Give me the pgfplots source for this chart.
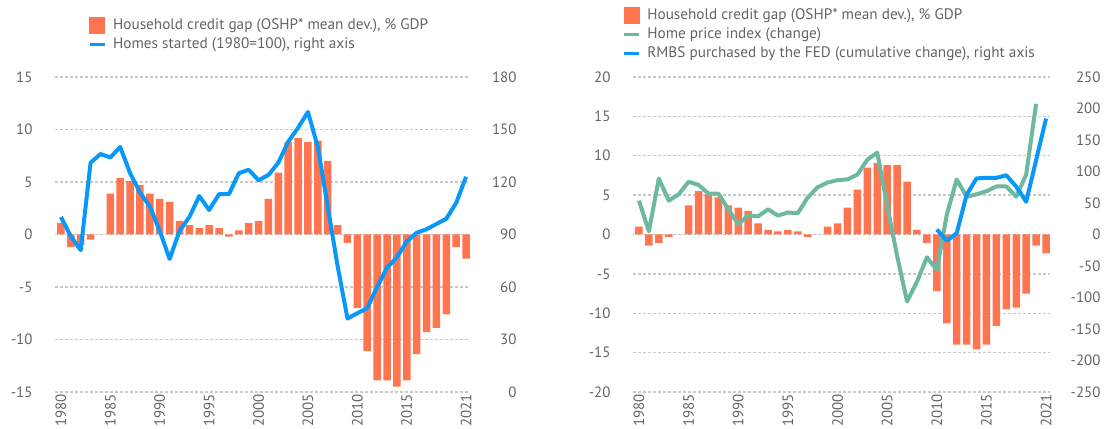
\documentclass[border=0pt]{standalone}
\usepackage{pgfplots}
\usepackage{pgfplotstable}
\pgfplotsset{compat=1.18}
\usepackage{fontspec}
\setmainfont{PT Sans}
\definecolor{barc}{RGB}{255,117,80}
\definecolor{bluec}{RGB}{8,152,250}
\definecolor{greenc}{RGB}{108,184,160}
\definecolor{txt}{RGB}{100,100,100}
\definecolor{gridc}{RGB}{200,200,200}

\pgfplotstableread{
year val
1980 1.1
1981 -1.2
1982 -1.0
1983 -0.5
1984 0
1985 3.9
1986 5.4
1987 5.1
1988 4.7
1989 3.9
1990 3.4
1991 3.1
1992 1.3
1993 0.9
1994 0.6
1995 0.9
1996 0.6
1997 -0.2
1998 0.4
1999 1.1
2000 1.3
2001 3.4
2002 5.9
2003 8.8
2004 9.2
2005 8.8
2006 8.95
2007 7.0
2008 0.9
2009 -0.8
2010 -7.0
2011 -11.1
2012 -13.9
2013 -13.9
2014 -14.5
2015 -13.9
2016 -11.4
2017 -9.3
2018 -8.9
2019 -7.6
2020 -1.2
2021 -2.3
}\gapA

\pgfplotstableread{
year val
1980 100
1981 89
1982 81
1983 131
1984 136
1985 134
1986 140
1987 125
1988 114
1989 106
1990 92
1991 76
1992 92
1993 100
1994 112
1995 104
1996 113
1997 113
1998 125
1999 127
2000 121
2001 124
2002 131
2003 143
2004 151
2005 160
2006 140
2007 106
2008 72
2009 42
2010 45
2011 48
2012 60
2013 71
2014 77
2015 86
2016 91
2017 93
2018 96
2019 99
2020 108
2021 123
}\homes

\pgfplotstableread{
year val
1980 1.0
1981 -1.4
1982 -1.1
1983 -0.3
1984 0
1985 3.7
1986 5.5
1987 5.1
1988 4.7
1989 3.7
1990 3.4
1991 3.0
1992 1.4
1993 0.6
1994 0.4
1995 0.6
1996 0.4
1997 -0.3
1998 0
1999 1.0
2000 1.4
2001 3.4
2002 5.7
2003 8.5
2004 9.1
2005 8.8
2006 8.8
2007 6.7
2008 0.6
2009 -1.1
2010 -7.2
2011 -11.3
2012 -14.0
2013 -14.0
2014 -14.6
2015 -14.0
2016 -11.6
2017 -9.5
2018 -9.3
2019 -7.5
2020 -1.4
2021 -2.4
}\gapB

\pgfplotstableread{
year val
1980 4.3
1981 0.4
1982 7.1
1983 4.3
1984 5.1
1985 6.7
1986 6.3
1987 5.2
1988 5.2
1989 3.2
1990 1.3
1991 2.4
1992 2.3
1993 3.2
1994 2.4
1995 2.8
1996 2.7
1997 4.7
1998 6.0
1999 6.6
2000 6.9
2001 7.0
2002 7.6
2003 9.5
2004 10.4
2005 3.7
2006 -2.7
2007 -8.5
2008 -6.0
2009 -2.9
2010 -4.5
2011 2.5
2012 7.0
2013 4.8
2014 5.1
2015 5.5
2016 6.1
2017 6.1
2018 4.8
2019 7.6
2020 16.6
}\hpi

\pgfplotstableread{
year val
2010 8
2011 -10
2012 2
2013 63
2014 89
2015 90
2016 90
2017 94
2018 76
2019 52
2020 118
2021 184
}\rmbs

\pgfplotsset{
  base/.style={
    scale only axis, height=315bp,
    xmin=1979.4, xmax=2021.4,
    axis line style={draw=none}, tick style={draw=none}, major tick length=0pt,
    ticklabel style={font=\fontsize{15}{17}\selectfont, text=txt},
    /pgf/number format/assume math mode=true,
    /pgf/number format/1000 sep={},
    clip=false,
  },
  leftax/.style={base,
    xtick={1980,1985,1990,1995,2000,2005,2010,2015,2021},
    xticklabel style={rotate=90, anchor=east, inner sep=2bp},
    ymajorgrids, grid style={gridc, line width=1.3bp, dash pattern=on 2.5bp off 2.5bp},
    yticklabel style={anchor=east, xshift=-19bp},
  },
  rightax/.style={base,
    xtick=\empty, yticklabel pos=right,
    yticklabel style={anchor=east},
  },
  leg/.style={legend cell align=left,
    legend style={draw=none, fill=none, inner sep=0pt, row sep=3bp, column sep=6bp,
      font=\fontsize{15.3}{18}\selectfont, text=txt,
      nodes={inner sep=1bp, text height=11bp, text depth=3bp}},
  },
  barimg/.style={legend image code/.code={\fill[barc] (0bp,-8bp) rectangle (15bp,8bp);}},
  lineimg/.style={legend image code/.code={\draw[#1, line width=3bp] (0bp,0bp) -- (15bp,0bp);}},
}

\begin{document}
\begin{tikzpicture}
\useasboundingbox (0,0) rectangle (1106bp,429bp);
% ---------------- left chart ----------------
\begin{axis}[leftax, width=415bp, at={(55bp,37bp)}, anchor=south west,
  ymin=-15, ymax=15, ytick={-15,-10,...,15}]
\addplot[ybar, bar width=7.5bp, fill=barc, draw=none] table[x=year,y=val]{\gapA};
\end{axis}
\begin{axis}[rightax, width=415bp, at={(55bp,37bp)}, anchor=south west,
  ymin=0, ymax=180, ytick={0,30,...,180},
  yticklabel style={xshift=50bp}, leg,
  legend style={at={(axis description cs:0.0795,1.19)}, anchor=north west}]
\addlegendimage{barimg}
\addlegendentry{Household credit gap (OSHP* mean dev.), \% GDP}
\addlegendimage{lineimg=bluec}
\addlegendentry{Homes started (1980=100), right axis}
\addplot[forget plot, bluec, line width=4bp, line join=round] table[x=year,y=val]{\homes};
\end{axis}
% ---------------- right chart ----------------
\begin{axis}[leftax, width=417bp, at={(633bp,37bp)}, anchor=south west,
  ymin=-20, ymax=20, ytick={-20,-15,...,20}]
\addplot[ybar, bar width=7.5bp, fill=barc, draw=none] table[x=year,y=val]{\gapB};
\addplot[greenc, line width=4bp, line join=round] table[x=year,y=val]{\hpi};
\end{axis}
\begin{axis}[rightax, width=417bp, at={(633bp,37bp)}, anchor=south west,
  ymin=-250, ymax=250, ytick={-250,-200,...,250},
  yticklabel style={xshift=54bp}, leg,
  legend style={at={(axis description cs:-0.026,1.222)}, anchor=north west}]
\addlegendimage{barimg}
\addlegendentry{Household credit gap (OSHP* mean dev.), \% GDP}
\addlegendimage{lineimg=greenc}
\addlegendentry{Home price index (change)}
\addlegendimage{lineimg=bluec}
\addlegendentry{RMBS purchased by the FED (cumulative change), right axis}
\addplot[forget plot, bluec, line width=4bp, line join=round] table[x=year,y=val]{\rmbs};
\end{axis}
\end{tikzpicture}
\end{document}
